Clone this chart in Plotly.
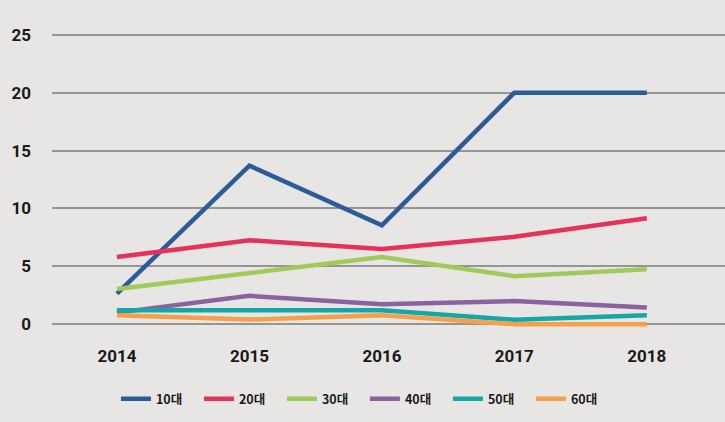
import plotly.graph_objects as go

# Data
years = ['2014', '2015', '2016', '2017', '2018']
age_groups = ['10대', '20대', '30대', '40대', '50대', '60대']

teens = [2.65, 13.7, 8.55, 20.0, 20.0]
twenties = [5.8, 7.25, 6.5, 7.55, 9.15]
thirties = [3.05, 4.45, 5.8, 4.15, 4.75]
forties = [1.0, 2.45, 1.72, 2.0, 1.45]
fifties = [1.2, 1.2, 1.2, 0.38, 0.78]
sixties = [0.78, 0.4, 0.78, 0.0, 0.0]

y_ticks = [0, 5, 10, 15, 20, 25]

# Colors used by graphs
colors = ['#2b5c9a', '#e6325b', '#a2ca5b', '#8a62a0', '#15a7a5', '#f5a04b']

bg = '#e8e6e4'
axis_font = dict(family='Roboto, Arial, sans-serif', size=17,
                 color='#1a1a1a', weight='bold')


def create_graph():
    fig = go.Figure()
    series = [teens, twenties, thirties, forties, fifties, sixties]
    for name, values, color in zip(age_groups, series, colors):
        fig.add_trace(go.Scatter(
            x=years,
            y=values,
            mode='lines',
            name=name,
            line=dict(color=color, width=4.5),
        ))

    fig.update_layout(
        width=725,
        height=422,
        paper_bgcolor=bg,
        plot_bgcolor=bg,
        margin=dict(l=52, r=0, t=29, b=92, autoexpand=False),
        showlegend=True,
        legend=dict(
            orientation='h',
            xanchor='center',
            x=0.465,
            yanchor='middle',
            y=-0.23,
            font=dict(family='Noto Sans CJK KR', size=12.5, color='#1a1a1a',
                      weight='bold'),
            entrywidth=38,
            bgcolor='rgba(0,0,0,0)',
        ),
    )
    fig.update_xaxes(
        type='category',
        range=[-0.49, 4.59],
        showgrid=False,
        showline=False,
        zeroline=False,
        ticks='',
        tickfont=axis_font,
        ticklabelstandoff=14,
    )
    fig.update_yaxes(
        range=[-0.5, 25.5],
        tickvals=y_ticks,
        showgrid=True,
        gridcolor='#959595',
        gridwidth=1.5,
        zeroline=False,
        showline=False,
        ticks='',
        tickfont=axis_font,
        ticklabelstandoff=20,
    )
    # drop the page's default body margin so the figure fills the window
    fig.write_html('out.html',
                   config={'displayModeBar': False},
                   post_script="document.body.style.margin='0';")


create_graph()
